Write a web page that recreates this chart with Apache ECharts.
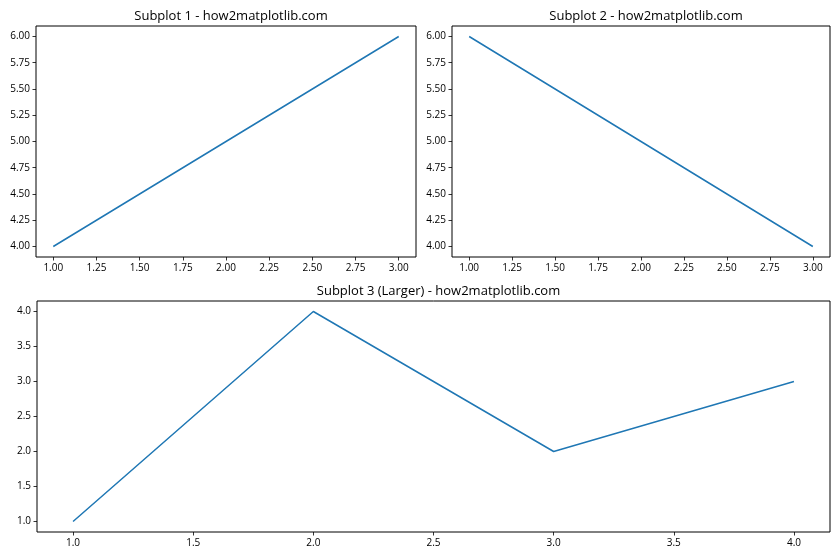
<!DOCTYPE html>
<html>
<head>
<meta charset="utf-8">
<script src="https://cdn.jsdelivr.net/npm/echarts@6/dist/echarts.min.js"></script>
<style>html,body{margin:0;padding:0;background:#fff}#c{width:840px;height:560px}</style>
</head>
<body>
<div id="c"></div>
<script>
// Data
const x1 = [1, 2, 3];
const y1 = [4, 5, 6];
const x2 = [1, 2, 3];
const y2 = [6, 5, 4];
const x3 = [1, 2, 3, 4];
const y3 = [1, 4, 2, 3];
// Tick labels
const xTicksTop = [1.00, 1.25, 1.50, 1.75, 2.00, 2.25, 2.50, 2.75, 3.00];
const yTicksTop = [4.00, 4.25, 4.50, 4.75, 5.00, 5.25, 5.50, 5.75, 6.00];
const xTicksBottom = [1.0, 1.5, 2.0, 2.5, 3.0, 3.5, 4.0];
const yTicksBottom = [1.0, 1.5, 2.0, 2.5, 3.0, 3.5, 4.0];
const titles = ['Subplot 1 - how2matplotlib.com', 'Subplot 2 - how2matplotlib.com', 'Subplot 3 (Larger) - how2matplotlib.com'];

const FONT = 'Open Sans';
const grids = [
  {left: 36, top: 26, width: 380, height: 231},
  {left: 452, top: 26, width: 378, height: 231},
  {left: 37, top: 301, width: 793, height: 231}
];
function pad(arr) { const mn = Math.min(...arr), mx = Math.max(...arr); const m = (mx - mn) * 0.05; return [mn - m, mx + m]; }
function mkAxis(type, idx, range, ticks, dec) {
  return {
    type: 'value', gridIndex: idx, min: range[0], max: range[1],
    axisLine: {show: false},
    splitLine: {show: false},
    axisTick: {show: true, inside: false, length: 3.5, lineStyle: {color: '#000', width: 0.8}, customValues: ticks},
    axisLabel: {show: true, margin: 6, color: '#000', fontFamily: FONT, fontSize: 10, customValues: ticks,
      formatter: v => Number(v).toFixed(dec)}
  };
}
const xs = [x1, x2, x3], ys = [y1, y2, y3];
const option = {
  animation: false,
  title: grids.map((g, i) => ({
    text: titles[i], left: g.left + g.width / 2, top: g.top - 21, textAlign: 'center',
    textStyle: {fontFamily: FONT, fontSize: 13, fontWeight: 'normal', color: '#000'}
  })),
  grid: grids.map(g => Object.assign({show: true, borderColor: '#000', borderWidth: 1, backgroundColor: '#fff', containLabel: false}, g)),
  xAxis: [
    mkAxis('x', 0, pad(x1), xTicksTop, 2),
    mkAxis('x', 1, pad(x2), xTicksTop, 2),
    mkAxis('x', 2, pad(x3), xTicksBottom, 1)
  ],
  yAxis: [
    mkAxis('y', 0, pad(y1), yTicksTop, 2),
    mkAxis('y', 1, pad(y2), yTicksTop, 2),
    mkAxis('y', 2, pad(y3), yTicksBottom, 1)
  ],
  series: [0, 1, 2].map(i => ({
    type: 'line', xAxisIndex: i, yAxisIndex: i,
    data: xs[i].map((x, j) => [x, ys[i][j]]),
    showSymbol: false, symbol: 'none',
    lineStyle: {color: '#1f77b4', width: 1.5},
    itemStyle: {color: '#1f77b4'}
  }))
};
const chart = echarts.init(document.getElementById('c'), null, {renderer: 'canvas'});
chart.setOption(option);
</script>
</body>
</html>
